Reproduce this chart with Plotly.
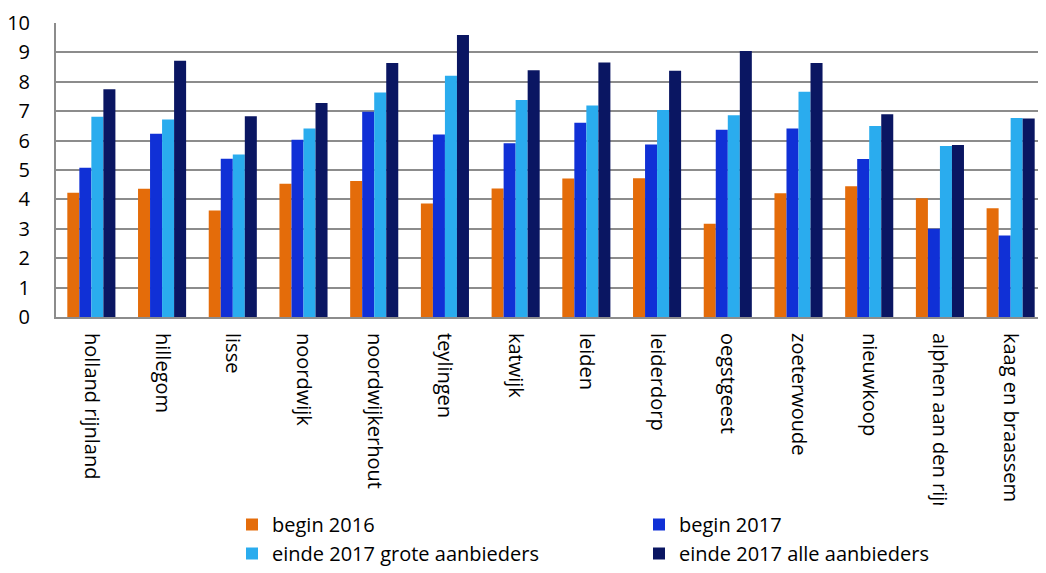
import plotly.graph_objects as go

categories = ["holland rijnland", "hillegom", "lisse", "noordwijk", "noordwijkerhout",
              "teylingen", "katwijk", "leiden", "leiderdorp", "oegstgeest",
              "zoeterwoude", "nieuwkoop", "alphen aan den rijn", "kaag en braassem"]
begin_2016 = [4.23, 4.36, 3.62, 4.53, 4.63, 3.86, 4.37, 4.71, 4.72, 3.17, 4.21, 4.45, 4.04, 3.70]
begin_2017 = [5.08, 6.23, 5.38, 6.03, 6.98, 6.21, 5.91, 6.61, 5.87, 6.37, 6.41, 5.37, 3.00, 2.77]
einde_2017_groot = [6.81, 6.72, 5.53, 6.41, 7.64, 8.21, 7.38, 7.19, 7.04, 6.86, 7.66, 6.50, 5.82, 6.77]
einde_2017_alle = [7.75, 8.72, 6.83, 7.28, 8.64, 9.59, 8.39, 8.66, 8.38, 9.05, 8.64, 6.90, 5.85, 6.75]

series = [
    ("begin 2016", begin_2016, "#E46C0A"),
    ("begin 2017", begin_2017, "#1030D6"),
    ("einde 2017 grote aanbieders", einde_2017_groot, "#2AACEE"),
    ("einde 2017 alle aanbieders", einde_2017_alle, "#0A1662"),
]

fig = go.Figure()
for name, vals, col in series:
    fig.add_trace(go.Bar(x=categories, y=vals, name=name, marker_color=col,
                         marker_line_width=0))

font = "Open Sans, Calibri, sans-serif"
fig.update_layout(
    width=1038, height=565,
    margin=dict(l=48, r=0, t=15, b=256),
    plot_bgcolor="white", paper_bgcolor="white",
    barmode="group", bargap=0.32, bargroupgap=0,
    font=dict(family=font, size=20, color="#000000"),
    legend=dict(orientation="h", x=0.198, xanchor="left",
                yref="container", y=0, yanchor="bottom",
                entrywidth=362, entrywidthmode="pixels", tracegroupgap=0,
                font=dict(size=20), traceorder="normal"),
)
fig.update_xaxes(showline=True, linecolor="#8C8C8C", linewidth=2, tickangle=90,
                 ticks="", tickfont=dict(size=20), ticklabelstandoff=10,
                 automargin=False)
fig.update_yaxes(range=[0, 10], dtick=1, showgrid=True, gridcolor="#8C8C8C", gridwidth=2,
                 showline=True, linecolor="#8C8C8C", linewidth=2, zeroline=False,
                 ticks="", tickfont=dict(size=20), ticklabelstandoff=20,
                 automargin=False)
fig.write_html("out.html")
